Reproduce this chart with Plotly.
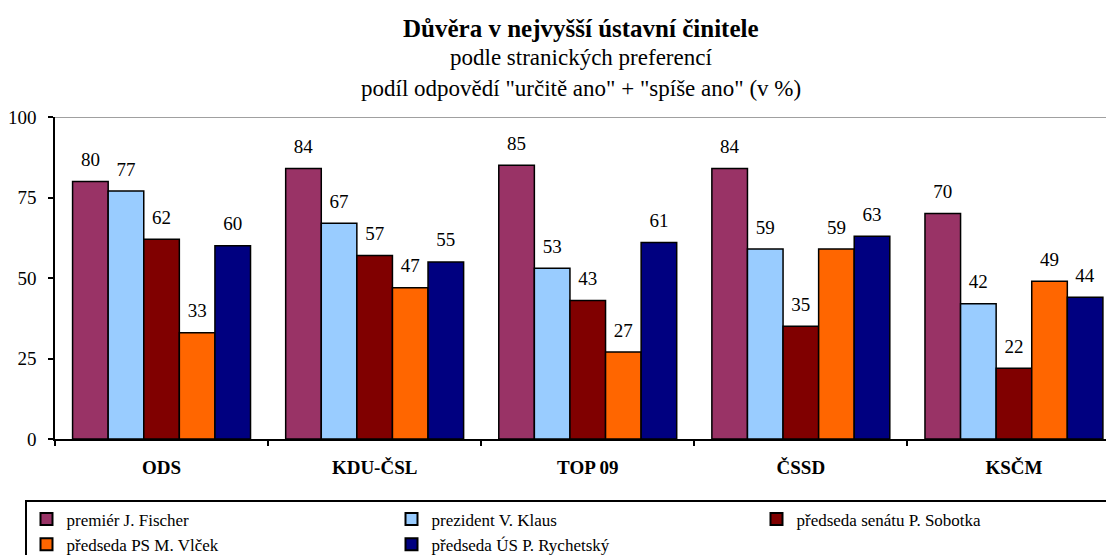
import plotly.graph_objects as go

parties = ["ODS", "KDU-ČSL", "TOP 09", "ČSSD", "KSČM"]
fischer = [80, 84, 85, 84, 70]
klaus = [77, 67, 53, 59, 42]
sobotka = [62, 57, 43, 35, 22]
vlcek = [33, 47, 27, 59, 49]
rychetsky = [60, 55, 61, 63, 44]

series_names = [
    "premiér J. Fischer",
    "prezident V. Klaus",
    "předseda senátu P. Sobotka",
    "předseda PS M. Vlček",
    "předseda ÚS P. Rychetský",
]
series_values = [fischer, klaus, sobotka, vlcek, rychetsky]
colors = ["#993366", "#99CCFF", "#800000", "#FF6600", "#000080"]

y_ticks = [0, 25, 50, 75, 100]

FONT = "Liberation Serif"

fig = go.Figure()
for name, vals, col in zip(series_names, series_values, colors):
    fig.add_trace(go.Bar(
        x=parties, y=vals, name=name,
        marker=dict(color=col, line=dict(color="#000000", width=1.5)),
        texttemplate="<span style='font-size:19px'>%{y}</span><br><span style='color:rgba(0,0,0,0)'>.</span>",
        textposition="outside",
        textfont=dict(family=FONT, size=8, color="#000000"),
        constraintext="none",
        cliponaxis=False,
    ))

W, H = 1106, 555
L, R, T, B = 55, 0, 117, 116
ph = H - T - B

def py(ypix):
    return (H - B - ypix) / ph

fig.update_layout(
    width=W, height=H,
    margin=dict(l=L, r=R, t=T, b=B, autoexpand=False),
    paper_bgcolor="#FFFFFF", plot_bgcolor="#FFFFFF",
    barmode="group", bargap=0.165, bargroupgap=0,
    font=dict(family=FONT, color="#000000"),
    showlegend=True,
    legend=dict(
        orientation="h",
        x=(25 - L) / (W - L - R), xanchor="left",
        y=py(500), yanchor="top",
        bordercolor="#000000", borderwidth=1.5,
        font=dict(family=FONT, size=17, color="#000000"),
        entrywidth=320, entrywidthmode="pixels",
        tracegroupgap=0, itemsizing="constant",
        traceorder="normal",
    ),
    xaxis=dict(
        type="category",
        range=[-0.5, 4.432],
        showline=True, linecolor="#000000", linewidth=1.5,
        ticks="outside", tickson="boundaries", ticklen=5, tickcolor="#000000", tickwidth=1.5,
        tickfont=dict(family=FONT, size=19, color="#000000", weight="bold"),
        ticklabelstandoff=10,
        showgrid=False, zeroline=False,
    ),
    yaxis=dict(
        range=[0, 100],
        tickvals=y_ticks,
        showline=True, linecolor="#000000", linewidth=1.5,
        ticks="outside", ticklen=5, tickcolor="#000000", tickwidth=1.5,
        tickfont=dict(family=FONT, size=19, color="#000000"),
        ticklabelstandoff=8,
        showgrid=False, zeroline=False,
    ),
    shapes=[dict(type="line", xref="paper", yref="y", x0=0, x1=1, y0=100, y1=100,
                 line=dict(color="#808080", width=1.5), layer="below")],
    annotations=[
        dict(text="<b>Důvěra v nejvyšší ústavní činitele</b>", xref="paper", yref="paper",
             x=0.5, y=py(28), xanchor="center", yanchor="middle", showarrow=False,
             font=dict(family=FONT, size=25, color="#000000")),
        dict(text="podle stranických preferencí", xref="paper", yref="paper",
             x=0.5, y=py(57), xanchor="center", yanchor="middle", showarrow=False,
             font=dict(family=FONT, size=23, color="#000000")),
        dict(text="podíl odpovědí \"určitě ano\" + \"spíše ano\" (v %)", xref="paper", yref="paper",
             x=0.5, y=py(88), xanchor="center", yanchor="middle", showarrow=False,
             font=dict(family=FONT, size=23, color="#000000")),
    ],
)

fig.write_html(
    "out.html",
    config={"displayModeBar": False},
    post_script="document.body.style.margin='0';document.body.style.overflow='hidden';",
)
